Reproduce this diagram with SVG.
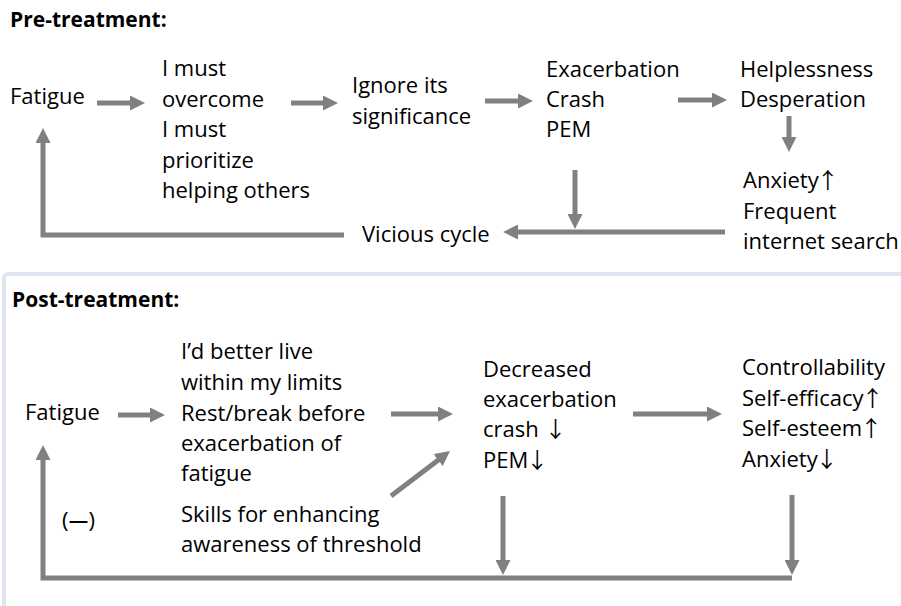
<svg xmlns="http://www.w3.org/2000/svg" width="901" height="606" viewBox="0 0 901 606">
  <defs>
    <marker id="ah" viewBox="0 0 10 10" refX="1" refY="5" markerWidth="3" markerHeight="3" orient="auto" markerUnits="strokeWidth">
      <path d="M0,0 L10,5 L0,10 z" fill="#808080"/>
    </marker>
    <style>
      text { font-family: "Open Sans", "DejaVu Sans", sans-serif; font-size: 22px; fill: #000; }
      .title { font-weight: bold; font-size: 21px; }
      .sym { font-family: "Noto Sans CJK JP", "DejaVu Sans", sans-serif; }
      .arrow { stroke: #808080; stroke-width: 5; fill: none; marker-end: url(#ah); }
    </style>
  </defs>
  <rect width="901" height="606" fill="#fff"/>

  <!-- Pre-treatment -->
  <text class="title" x="10" y="27">Pre-treatment:</text>

  <g id="pre-fatigue"><text x="10" y="104">Fatigue</text></g>
  <g id="pre-must">
    <text x="162" y="76">I must</text>
    <text x="162" y="107">overcome</text>
    <text x="162" y="137">I must</text>
    <text x="162" y="168">prioritize</text>
    <text x="162" y="198">helping others</text>
  </g>
  <g id="pre-ignore">
    <text x="352" y="93">Ignore its</text>
    <text x="352" y="124">significance</text>
  </g>
  <g id="pre-exacerbation">
    <text x="546" y="77">Exacerbation</text>
    <text x="546" y="107">Crash</text>
    <text x="546" y="137">PEM</text>
  </g>
  <g id="pre-helpless">
    <text x="740" y="77">Helplessness</text>
    <text x="740" y="107">Desperation</text>
  </g>
  <g id="pre-anxiety">
    <text x="743" y="188">Anxiety<tspan class="sym" dx="-2">↑</tspan></text>
    <text x="743" y="219">Frequent</text>
    <text x="743" y="249">internet search</text>
  </g>
  <g id="pre-vicious"><text x="362" y="242">Vicious cycle</text></g>

  <!-- Post-treatment -->
  <g id="post-box">
    <rect x="4" y="274" width="930" height="400" rx="4" fill="none" stroke="#dfe6f1" stroke-width="4"/>
  </g>
  <text class="title" x="12" y="307">Post-treatment:</text>

  <g id="post-fatigue"><text x="25" y="420">Fatigue</text></g>
  <g id="post-limits">
    <text x="181" y="359">I’d better live</text>
    <text x="181" y="390">within my limits</text>
    <text x="181" y="421">Rest/break before</text>
    <text x="181" y="451">exacerbation of</text>
    <text x="181" y="481">fatigue</text>
  </g>
  <g id="post-skills">
    <text x="181" y="522">Skills for enhancing</text>
    <text x="181" y="552">awareness of threshold</text>
  </g>
  <g id="post-decreased">
    <text x="483" y="377">Decreased</text>
    <text x="483" y="407">exacerbation</text>
    <text x="483" y="437">crash <tspan class="sym">↓</tspan></text>
    <text x="483" y="468">PEM<tspan class="sym" dx="-2">↓</tspan></text>
  </g>
  <g id="post-control">
    <text x="742" y="375">Controllability</text>
    <text x="742" y="406">Self-efficacy<tspan class="sym" dx="-2">↑</tspan></text>
    <text x="742" y="436">Self-esteem<tspan class="sym" dx="-2">↑</tspan></text>
    <text x="742" y="467">Anxiety<tspan class="sym" dx="-2">↓</tspan></text>
  </g>
  <g id="post-negative"><text x="62" y="528" font-size="24">(<tspan class="sym" font-weight="bold">—</tspan>)</text></g>

  <g id="connectors">
    <line class="arrow" x1="97" y1="103" x2="131.5" y2="103"/>
    <line class="arrow" x1="291" y1="103" x2="324.5" y2="103"/>
    <line class="arrow" x1="485" y1="101" x2="519.5" y2="101"/>
    <line class="arrow" x1="678" y1="100" x2="713.5" y2="100"/>
    <line class="arrow" x1="789" y1="116" x2="789" y2="138.5"/>
    <line class="arrow" x1="575" y1="170" x2="575" y2="215.5"/>
    <line class="arrow" x1="725" y1="232" x2="516.5" y2="232"/>
    <polyline class="arrow" points="344,235 43,235 43,141.5"/>

    <line class="arrow" x1="118" y1="415" x2="151.5" y2="415"/>
    <line class="arrow" x1="391" y1="414" x2="439.5" y2="414"/>
    <line class="arrow" x1="391" y1="496" x2="439.3" y2="459.2"/>
    <line class="arrow" x1="633" y1="414" x2="708.5" y2="414"/>
    <line class="arrow" x1="503" y1="496" x2="503" y2="561.5"/>
    <line class="arrow" x1="792" y1="495" x2="792" y2="561.5"/>
    <polyline class="arrow" points="792,578 43,578 43,458.5"/>
  </g>
</svg>
